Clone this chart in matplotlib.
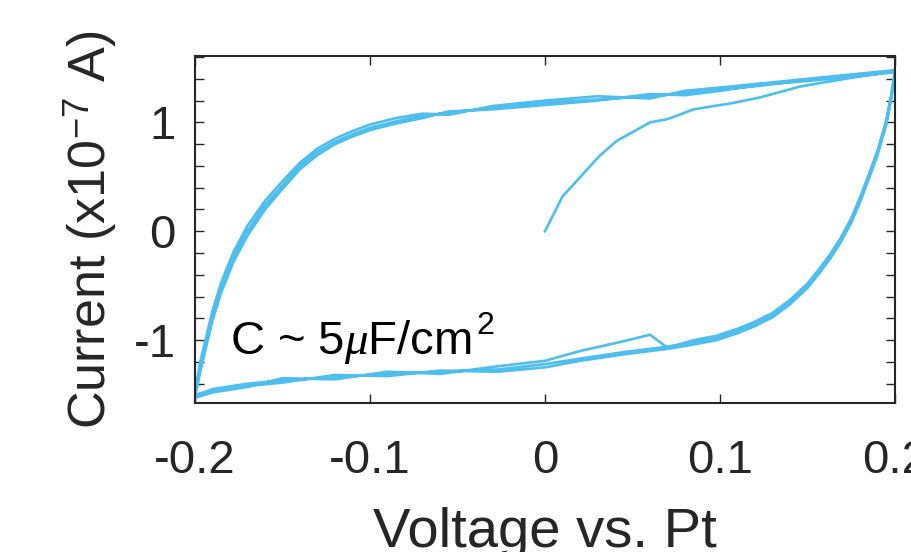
import matplotlib
matplotlib.use('Agg')
import matplotlib.pyplot as plt
from matplotlib.ticker import MultipleLocator

plt.rcParams['font.family'] = ['Liberation Sans', 'DejaVu Sans']
plt.rcParams['mathtext.fontset'] = 'custom'
plt.rcParams['mathtext.rm'] = 'Liberation Sans'
plt.rcParams['mathtext.it'] = 'Liberation Serif:italic'
plt.rcParams['axes.unicode_minus'] = False

# first sweep from open circuit (0 V) up to +0.2 V
v_init = [0.0, 0.010, 0.031, 0.041, 0.060, 0.070, 0.085, 0.108, 0.123, 0.146, 0.175, 0.2]
i_init = [0.0, 0.32, 0.69, 0.83, 1.00, 1.03, 1.12, 1.18, 1.23, 1.33, 1.41, 1.47]

# cathodic sweep +0.2 -> -0.2 V, three cycles
v_down = [0.2, 0.198, 0.195, 0.19, 0.185, 0.18, 0.175, 0.169, 0.163, 0.157, 0.15, 0.14,
          0.13, 0.12, 0.111, 0.098, 0.085, 0.07, 0.06, 0.045, 0.02, 0.0, -0.027, -0.06,
          -0.09, -0.12, -0.15, -0.17, -0.19, -0.2]
i_down_1 = [1.47, 1.25, 1.00, 0.72, 0.50, 0.29, 0.10, -0.08, -0.23, -0.36, -0.50, -0.65,
            -0.77, -0.85, -0.91, -0.98, -1.02, -1.06, -1.08, -1.11, -1.17, -1.22, -1.27, -1.29,
            -1.31, -1.34, -1.37, -1.40, -1.45, -1.51]
i_down_2 = [1.48, 1.27, 1.02, 0.74, 0.52, 0.31, 0.12, -0.06, -0.21, -0.34, -0.48, -0.63,
            -0.75, -0.83, -0.89, -0.96, -1.00, -1.07, -0.95, -1.01, -1.10, -1.19, -1.24, -1.31,
            -1.29, -1.36, -1.35, -1.43, -1.48, -1.53]
i_down_3 = [1.46, 1.23, 0.98, 0.70, 0.48, 0.27, 0.08, -0.10, -0.25, -0.38, -0.52, -0.67,
            -0.79, -0.87, -0.93, -1.00, -1.04, -1.08, -1.10, -1.13, -1.19, -1.25, -1.29, -1.28,
            -1.33, -1.32, -1.39, -1.42, -1.47, -1.50]

# anodic sweep -0.2 -> +0.2 V, three cycles
v_up = [-0.2, -0.199, -0.197, -0.194, -0.19, -0.185, -0.178, -0.17, -0.16, -0.15, -0.14,
        -0.13, -0.12, -0.11, -0.1, -0.085, -0.07, -0.055, -0.03, 0.0, 0.03, 0.06, 0.08,
        0.1, 0.125, 0.15, 0.175, 0.2]
i_up_1 = [-1.51, -1.42, -1.25, -1.05, -0.78, -0.52, -0.24, 0.00, 0.24, 0.42, 0.60,
          0.73, 0.82, 0.89, 0.95, 1.01, 1.06, 1.09, 1.13, 1.18, 1.21, 1.24, 1.27,
          1.30, 1.34, 1.39, 1.43, 1.47]
i_up_2 = [-1.53, -1.38, -1.20, -1.00, -0.73, -0.47, -0.19, 0.05, 0.28, 0.46, 0.63,
          0.76, 0.85, 0.92, 0.98, 1.04, 1.08, 1.07, 1.15, 1.20, 1.24, 1.22, 1.29,
          1.32, 1.36, 1.40, 1.44, 1.48]
i_up_3 = [-1.49, -1.45, -1.29, -1.09, -0.82, -0.56, -0.28, -0.04, 0.20, 0.39, 0.57,
          0.70, 0.80, 0.87, 0.93, 0.99, 1.04, 1.10, 1.12, 1.16, 1.20, 1.26, 1.25,
          1.29, 1.35, 1.38, 1.42, 1.46]

xticks = [-0.2, -0.1, 0, 0.1, 0.2]
xticklabels = ['-0.2', '-0.1', '0', '0.1', '0.2']
yticks = [-1, 0, 1]

color = '#4DBEEE'
dark = '#262626'

fig = plt.figure(figsize=(9.12, 5.52), dpi=100)
ax = fig.add_axes([0.2138, 0.2694, 0.7676, 0.6292])

volts = list(v_init)
amps = list(i_init)
for i_dn, i_up in [(i_down_1, i_up_1), (i_down_2, i_up_2), (i_down_3, i_up_3)]:
    volts += v_down + v_up
    amps += i_dn + i_up
ax.plot(volts, amps, color=color, lw=1.9, solid_joinstyle='round')

ax.set_xlim(-0.2, 0.2)
ax.set_ylim(-1.58, 1.61)
ax.set_xticks(xticks)
ax.set_xticklabels(xticklabels)
ax.set_yticks(yticks)
ax.yaxis.set_minor_locator(MultipleLocator(0.2))

ax.tick_params(which='both', direction='in', top=True, right=True, color=dark,
               width=1.0, length=6.5, labelsize=34, labelcolor=dark)
ax.tick_params(axis='x', pad=26)
ax.tick_params(axis='y', pad=14)
for sp in ax.spines.values():
    sp.set_color(dark)
    sp.set_linewidth(1.5)

ax.set_xlabel('Voltage vs. Pt', fontsize=40.5, color=dark)
ax.set_ylabel('Current (x10$^{-7}$ A)', fontsize=37.5, color=dark)
ax.xaxis.set_label_coords(0.5, -0.30)
ax.yaxis.set_label_coords(-0.107, 0.5)

# capacitance note, exponent placed by hand next to the unit
note = ax.text(-0.18, -1.13, r'C ~ 5$\mu$F/cm', fontsize=34, color='black',
               ha='left', va='baseline')
ax.annotate('2', xy=(1.0, 0.52), xycoords=note, xytext=(3, 0),
            textcoords='offset points', fontsize=23, color='black',
            ha='left', va='bottom')

fig.savefig('out.png', dpi=100)
